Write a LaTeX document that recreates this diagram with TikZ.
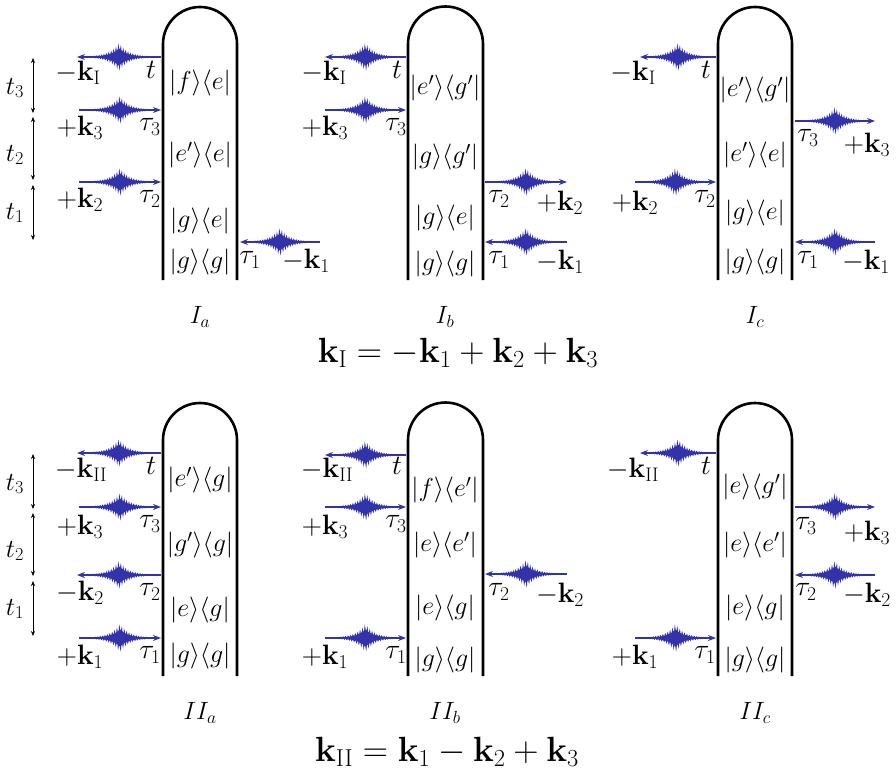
\documentclass[tikz,border=0pt]{standalone}
\usepackage{fix-cm}
\usetikzlibrary{arrows.meta}
\definecolor{pulseblue}{RGB}{50,50,170}
\newcommand\drawpulse[4]{%
  \coordinate (#1s) at (#2,#4);
  \coordinate (#1e) at (#3,#4);
  \draw[pulsearrow] (#1s) -- (#1e);
  \fill[pulsefill] plot[domain=-30:30,samples=121] ({(#2+#3)/2+\x},{#4+8.5*exp(-abs(\x)/9)})
     -- plot[domain=30:-30,samples=121] ({(#2+#3)/2+\x},{#4-8.5*exp(-abs(\x)/9)}) -- cycle;
  \draw[pulsewave] plot[domain=-30:30,samples=301] ({(#2+#3)/2+\x},{#4+11.5*exp(-abs(\x)/9.5)*sin(150*\x)});
}
\newcommand\drawrails[6]{% name, L, R, ytop, ybottom, radius
  \coordinate (#1bl) at (#2,#5);
  \coordinate (#1tl) at (#2,#4);
  \coordinate (#1br) at (#3,#5);
  \draw[rail] (#1bl) -- (#1tl) arc[start angle=180,end angle=0,radius=#6] -- (#1br);
}
\begin{document}
\begin{tikzpicture}[x=1pt,y=-1pt,
  rail/.style={line width=2.6pt,black},
  pulsearrow/.style={pulseblue,line width=1.3pt,-{Stealth[length=8pt,width=6pt]}},
  pulsewave/.style={pulseblue,line width=0.8pt},
  pulsefill/.style={fill=pulseblue},
  lbl/.style={font=\fontsize{28}{32}\selectfont,inner sep=0pt},
  st/.style={font=\fontsize{26}{30}\selectfont,inner sep=0pt},
  tl/.style={font=\fontsize{26}{30}\selectfont,inner sep=0pt},
  nm/.style={font=\fontsize{25}{30}\selectfont,inner sep=0pt},
  eq/.style={font=\fontsize{35}{40}\selectfont,inner sep=0pt},
  tarr/.style={line width=0.6pt,{Stealth[length=5pt,width=4pt]}-{Stealth[length=5pt,width=4pt]}}]
\useasboundingbox (0,0) rectangle (896,773);

% ================= TOP ROW =================
\drawrails{ra}{163}{237}{44}{280}{37pt}
\drawrails{rb}{408}{483}{44}{280}{37.5pt}
\drawrails{rc}{718}{792}{44}{280}{37pt}

% time axis top
\coordinate (ta3a) at (33,58);  \coordinate (ta3b) at (33,113);
\coordinate (ta2a) at (33,117); \coordinate (ta2b) at (33,180);
\coordinate (ta1a) at (33,185); \coordinate (ta1b) at (33,240);
\draw[tarr] (ta3a) -- (ta3b);
\draw[tarr] (ta2a) -- (ta2b);
\draw[tarr] (ta1a) -- (ta1b);
\node[tl] (tl3) at (15,88) {$t_3$};
\node[tl] (tl2) at (15,155) {$t_2$};
\node[tl] (tl1) at (15,213) {$t_1$};

% Ia
\drawpulse{pa1}{161}{77}{57}
\drawpulse{pa2}{79}{161}{110}
\drawpulse{pa3}{79}{161}{182}
\drawpulse{pa4}{320}{240}{242}
\node[lbl] (la1) at (78,73) {$-\mathbf{k}_{\mathrm{I}}$};
\node[lbl] (lat) at (151,70) {$t$};
\node[lbl] (la2) at (80,128) {$+\mathbf{k}_3$};
\node[lbl] (lat3) at (150,127) {$\tau_3$};
\node[lbl] (la3) at (80,200) {$+\mathbf{k}_2$};
\node[lbl] (lat2) at (150,199) {$\tau_2$};
\node[lbl] (lat1) at (250,260) {$\tau_1$};
\node[lbl] (la4) at (306,261) {$-\mathbf{k}_1$};
\node[st] (sa1) at (200,83) {$|f\rangle\langle e|$};
\node[st] (sa2) at (200,155) {$|e'\rangle\langle e|$};
\node[st] (sa3) at (200,221) {$|g\rangle\langle e|$};
\node[st] (sa4) at (200,262) {$|g\rangle\langle g|$};
\node[nm] (na) at (200,317) {$I_a$};

% Ib
\drawpulse{pb1}{406}{325}{57}
\drawpulse{pb2}{325}{406}{110}
\drawpulse{pb3}{485}{567}{182}
\drawpulse{pb4}{567}{485}{242}
\node[lbl] (lb1) at (324,73) {$-\mathbf{k}_{\mathrm{I}}$};
\node[lbl] (lbt) at (397,70) {$t$};
\node[lbl] (lb2) at (325,128) {$+\mathbf{k}_3$};
\node[lbl] (lbt3) at (396,127) {$\tau_3$};
\node[lbl] (lbt2) at (499,199) {$\tau_2$};
\node[lbl] (lb3) at (560,203) {$+\mathbf{k}_2$};
\node[lbl] (lbt1) at (499,260) {$\tau_1$};
\node[lbl] (lb4) at (560,262) {$-\mathbf{k}_1$};
\node[st] (sb1) at (445,88) {$|e'\rangle\langle g'|$};
\node[st] (sb2) at (445,157) {$|g\rangle\langle g'|$};
\node[st] (sb3) at (445,218) {$|g\rangle\langle e|$};
\node[st] (sb4) at (445,264) {$|g\rangle\langle g|$};
\node[nm] (nb) at (445,317) {$I_b$};

% Ic
\drawpulse{pc1}{716}{640}{57}
\drawpulse{pc2}{795}{875}{121}
\drawpulse{pc3}{635}{716}{182}
\drawpulse{pc4}{875}{795}{242}
\node[lbl] (lc1) at (633,73) {$-\mathbf{k}_{\mathrm{I}}$};
\node[lbl] (lct) at (706,70) {$t$};
\node[lbl] (lct3) at (808,138) {$\tau_3$};
\node[lbl] (lc2) at (867,145) {$+\mathbf{k}_3$};
\node[lbl] (lc3) at (635,203) {$+\mathbf{k}_2$};
\node[lbl] (lct2) at (705,199) {$\tau_2$};
\node[lbl] (lct1) at (808,260) {$\tau_1$};
\node[lbl] (lc4) at (866,262) {$-\mathbf{k}_1$};
\node[st] (sc1) at (755,90) {$|e'\rangle\langle g'|$};
\node[st] (sc2) at (755,155) {$|e'\rangle\langle e|$};
\node[st] (sc3) at (755,213) {$|g\rangle\langle e|$};
\node[st] (sc4) at (755,262) {$|g\rangle\langle g|$};
\node[nm] (nc) at (755,317) {$I_c$};

\node[eq] (eqI) at (458,353) {$\mathbf{k}_{\mathrm{I}} = -\mathbf{k}_1 + \mathbf{k}_2 + \mathbf{k}_3$};

% ================= BOTTOM ROW =================
\drawrails{rd}{163}{237}{440}{676}{37pt}
\drawrails{re}{408}{483}{440}{676}{37.5pt}
\drawrails{rf}{718}{792}{440}{676}{37pt}

\coordinate (tb3a) at (33,454); \coordinate (tb3b) at (33,509);
\coordinate (tb2a) at (33,513); \coordinate (tb2b) at (33,576);
\coordinate (tb1a) at (33,581); \coordinate (tb1b) at (33,636);
\draw[tarr] (tb3a) -- (tb3b);
\draw[tarr] (tb2a) -- (tb2b);
\draw[tarr] (tb1a) -- (tb1b);
\node[tl] (tm3) at (15,484) {$t_3$};
\node[tl] (tm2) at (15,551) {$t_2$};
\node[tl] (tm1) at (15,609) {$t_1$};

% IIa
\drawpulse{pd1}{161}{77}{453}
\drawpulse{pd2}{79}{161}{507}
\drawpulse{pd3}{161}{77}{575}
\drawpulse{pd4}{79}{161}{638}
\node[lbl] (ld1) at (81,470) {$-\mathbf{k}_{\mathrm{II}}$};
\node[lbl] (ldt) at (151,466) {$t$};
\node[lbl] (ld2) at (80,527) {$+\mathbf{k}_3$};
\node[lbl] (ldt3) at (150,524) {$\tau_3$};
\node[lbl] (ld3) at (80,593) {$-\mathbf{k}_2$};
\node[lbl] (ldt2) at (150,592) {$\tau_2$};
\node[lbl] (ld4) at (80,657) {$+\mathbf{k}_1$};
\node[lbl] (ldt1) at (150,655) {$\tau_1$};
\node[st] (sd1) at (200,480) {$|e'\rangle\langle g|$};
\node[st] (sd2) at (200,545) {$|g'\rangle\langle g|$};
\node[st] (sd3) at (200,610) {$|e\rangle\langle g|$};
\node[st] (sd4) at (200,656) {$|g\rangle\langle g|$};
\node[nm] (nd) at (200,713) {$II_a$};

% IIb
\drawpulse{pe1}{406}{325}{455}
\drawpulse{pe2}{325}{406}{507}
\drawpulse{pe3}{567}{485}{574}
\drawpulse{pe4}{325}{406}{638}
\node[lbl] (le1) at (327,470) {$-\mathbf{k}_{\mathrm{II}}$};
\node[lbl] (let) at (397,466) {$t$};
\node[lbl] (le2) at (325,527) {$+\mathbf{k}_3$};
\node[lbl] (let3) at (396,524) {$\tau_3$};
\node[lbl] (let2) at (499,592) {$\tau_2$};
\node[lbl] (le3) at (560,595) {$-\mathbf{k}_2$};
\node[lbl] (le4) at (325,657) {$+\mathbf{k}_1$};
\node[lbl] (let1) at (396,655) {$\tau_1$};
\node[st] (se1) at (445,490) {$|f\rangle\langle e'|$};
\node[st] (se2) at (445,545) {$|e\rangle\langle e'|$};
\node[st] (se3) at (445,608) {$|e\rangle\langle g|$};
\node[st] (se4) at (445,660) {$|g\rangle\langle g|$};
\node[nm] (ne) at (445,713) {$II_b$};

% IIc
\drawpulse{pf1}{716}{640}{453}
\drawpulse{pf2}{795}{875}{507}
\drawpulse{pf3}{875}{795}{575}
\drawpulse{pf4}{635}{716}{638}
\node[lbl] (lf1) at (633,470) {$-\mathbf{k}_{\mathrm{II}}$};
\node[lbl] (lft) at (706,466) {$t$};
\node[lbl] (lft3) at (806,526) {$\tau_3$};
\node[lbl] (lf2) at (867,533) {$+\mathbf{k}_3$};
\node[lbl] (lft2) at (806,592) {$\tau_2$};
\node[lbl] (lf3) at (867,595) {$-\mathbf{k}_2$};
\node[lbl] (lf4) at (635,657) {$+\mathbf{k}_1$};
\node[lbl] (lft1) at (705,655) {$\tau_1$};
\node[st] (sf1) at (755,487) {$|e\rangle\langle g'|$};
\node[st] (sf2) at (755,545) {$|e\rangle\langle e'|$};
\node[st] (sf3) at (755,608) {$|e\rangle\langle g|$};
\node[st] (sf4) at (755,660) {$|g\rangle\langle g|$};
\node[nm] (nf) at (755,713) {$II_c$};

\node[eq] (eqII) at (447,752) {$\mathbf{k}_{\mathrm{II}} = \mathbf{k}_1 - \mathbf{k}_2 + \mathbf{k}_3$};
\end{tikzpicture}
\end{document}
